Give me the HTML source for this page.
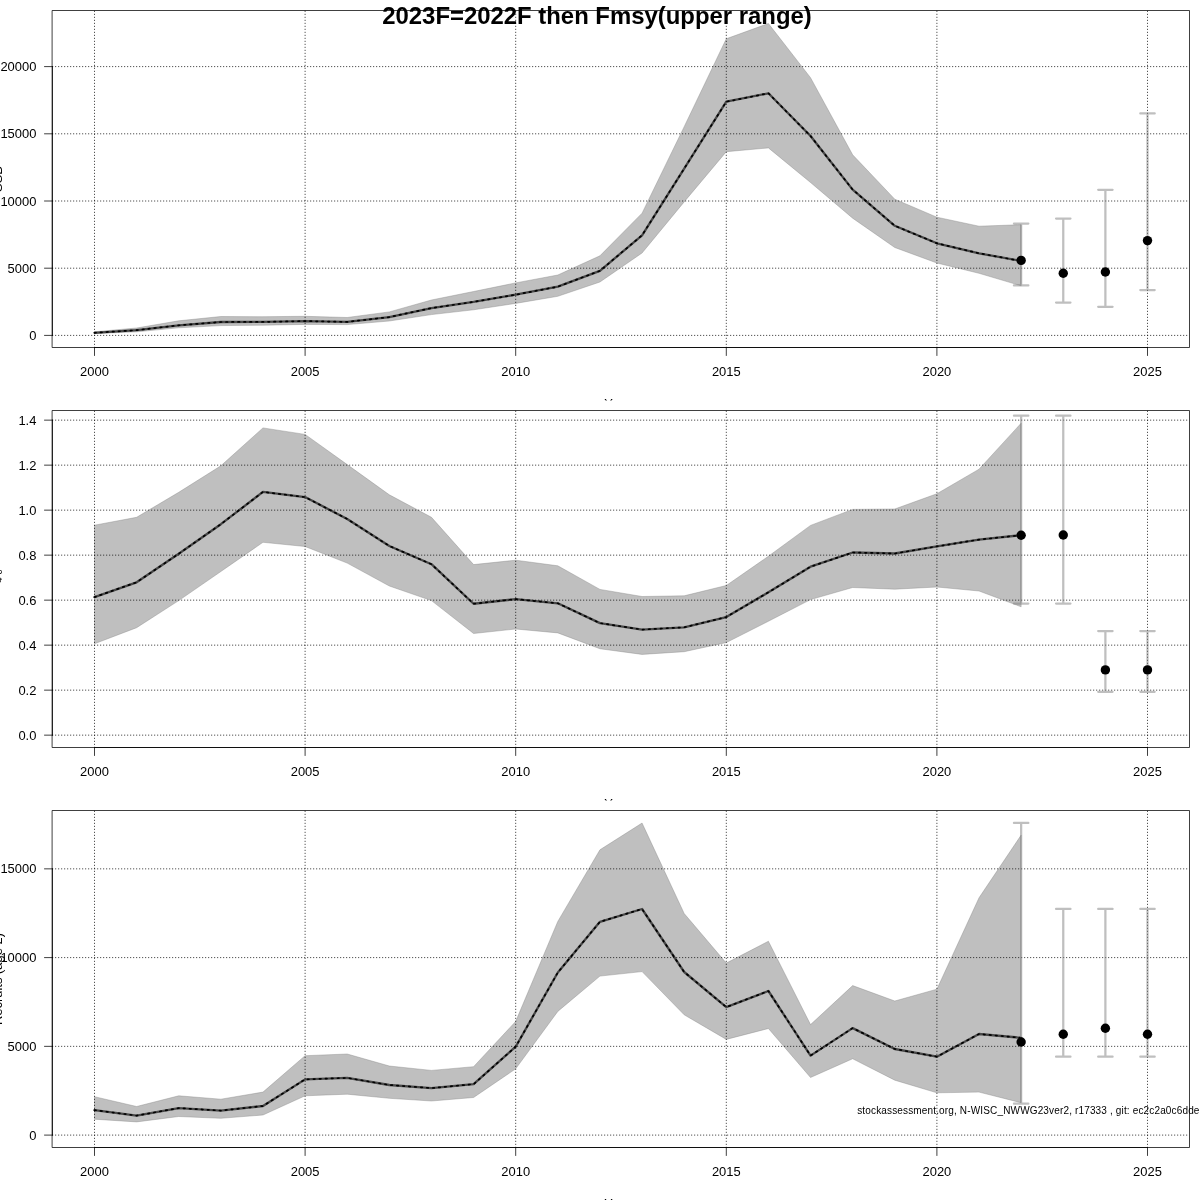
<!DOCTYPE html>
<html lang="en">
<head>
<meta charset="utf-8">
<title>2023F=2022F then Fmsy(upper range)</title>
<style>
html,body{margin:0;padding:0;background:#fff;}
body{width:1200px;height:1200px;overflow:hidden;}
svg{display:block;}
text{font-family:"Liberation Sans",Arial,Helvetica,sans-serif;font-size:12.95px;fill:#000;}
.title{font-weight:bold;font-size:23.9px;}
.small{font-size:10px;}
</style>
</head>
<body>
<svg width="1200" height="1200" viewBox="0 0 1200 1200">
<rect width="1200" height="1200" fill="#fff"/>
<g id="panel1">
<polygon points="94.5,333.6 136.62,331.8 178.74,327.8 220.86,325.6 262.98,325.2 305.1,324.4 347.22,324.6 389.34,321 431.46,314.6 473.58,309.8 515.7,303.4 557.82,296.3 599.94,282 642.06,253 684.18,201.9 726.3,151.7 768.42,147.9 810.54,182.5 852.66,218.2 894.78,247.5 936.9,263 979.02,273.3 1021.14,285.8 1021.14,224.7 979.02,226.2 936.9,217.2 894.78,199.2 852.66,154.8 810.54,77.7 768.42,23.5 726.3,38.75 684.18,126.7 642.06,213.2 599.94,255.8 557.82,275 515.7,282.9 473.58,291.5 431.46,300 389.34,311.9 347.22,317.5 305.1,316.3 262.98,316.7 220.86,316.5 178.74,320.8 136.62,328 94.5,331.8" fill="#7f7f7f" fill-opacity="0.5" stroke="#7f7f7f" stroke-opacity="0.5" stroke-width="0.75" stroke-linejoin="round"/>
<polyline points="94.5,332.8 136.62,330.2 178.74,325.3 220.86,322 262.98,321.9 305.1,321.1 347.22,321.9 389.34,317.1 431.46,308.1 473.58,301.9 515.7,294.7 557.82,286.7 599.94,270.8 642.06,235.3 684.18,168.6 726.3,101.7 768.42,93.3 810.54,136 852.66,189.6 894.78,225.8 936.9,243.3 979.02,253.3 1021.14,261" fill="none" stroke="#000" stroke-opacity="0.62" stroke-width="2.3" stroke-linejoin="round" stroke-linecap="round"/>
<polyline points="94.5,332.8 136.62,330.2 178.74,325.3 220.86,322 262.98,321.9 305.1,321.1 347.22,321.9 389.34,317.1 431.46,308.1 473.58,301.9 515.7,294.7 557.82,286.7 599.94,270.8 642.06,235.3 684.18,168.6 726.3,101.7 768.42,93.3 810.54,136 852.66,189.6 894.78,225.8 936.9,243.3 979.02,253.3 1021.14,261" fill="none" stroke="#000" stroke-width="1.7" stroke-dasharray="1.5 4.5" stroke-linejoin="round" stroke-linecap="round"/>
<path d="M94.5 347.5V10.5M305.1 347.5V10.5M515.7 347.5V10.5M726.3 347.5V10.5M936.9 347.5V10.5M1147.5 347.5V10.5M52.5 335.4H1189.5M52.5 268.2H1189.5M52.5 201H1189.5M52.5 133.8H1189.5M52.5 66.6H1189.5" fill="none" stroke="#000" stroke-width="0.75" stroke-dasharray="0.3 2.7" stroke-linecap="round"/>
<path d="M52.5 10.5H1189.5V347.5H52.5ZM94.5 347.5H1147.5M94.5 347.5v8M305.1 347.5v8M515.7 347.5v8M726.3 347.5v8M936.9 347.5v8M1147.5 347.5v8M52.5 335.4V66.6M52.5 335.4h-8M52.5 268.2h-8M52.5 201h-8M52.5 133.8h-8M52.5 66.6h-8" fill="none" stroke="#000" stroke-width="0.75" stroke-linecap="round" stroke-linejoin="round"/>
<text x="94.5" y="376" text-anchor="middle">2000</text>
<text x="305.1" y="376" text-anchor="middle">2005</text>
<text x="515.7" y="376" text-anchor="middle">2010</text>
<text x="726.3" y="376" text-anchor="middle">2015</text>
<text x="936.9" y="376" text-anchor="middle">2020</text>
<text x="1147.5" y="376" text-anchor="middle">2025</text>
<text x="36.4" y="340" text-anchor="end">0</text>
<text x="36.4" y="273" text-anchor="end">5000</text>
<text x="36.4" y="206" text-anchor="end">10000</text>
<text x="36.4" y="138" text-anchor="end">15000</text>
<text x="36.4" y="71" text-anchor="end">20000</text>
<path d="M1021.14 223.5V285.4M1013.94 223.5h14.4M1013.94 285.4h14.4" fill="none" stroke="#7f7f7f" stroke-opacity="0.5" stroke-width="2.25" stroke-linecap="round"/>
<path d="M1063.26 218.6V302.6M1056.06 218.6h14.4M1056.06 302.6h14.4" fill="none" stroke="#7f7f7f" stroke-opacity="0.5" stroke-width="2.25" stroke-linecap="round"/>
<path d="M1105.38 189.8V306.8M1098.18 189.8h14.4M1098.18 306.8h14.4" fill="none" stroke="#7f7f7f" stroke-opacity="0.5" stroke-width="2.25" stroke-linecap="round"/>
<path d="M1147.5 113.4V290.1M1140.3 113.4h14.4M1140.3 290.1h14.4" fill="none" stroke="#7f7f7f" stroke-opacity="0.5" stroke-width="2.25" stroke-linecap="round"/>
<circle cx="1021.14" cy="260.4" r="4.7"/>
<circle cx="1063.26" cy="273.2" r="4.7"/>
<circle cx="1105.38" cy="272" r="4.7"/>
<circle cx="1147.5" cy="240.6" r="4.7"/>
<text transform="translate(1.9 179) rotate(-90)" text-anchor="middle">SSB</text>
<svg x="0" y="0" width="1200" height="400.6" overflow="hidden"><text x="617.4" y="407.5" text-anchor="middle">Year</text></svg>
</g>
<g id="panel2">
<polygon points="94.5,643.75 136.62,627.7 178.74,600.6 220.86,571.5 262.98,542.3 305.1,546.5 347.22,563.1 389.34,586 431.46,600.6 473.58,633.5 515.7,629 557.82,632.9 599.94,648.75 642.06,654.4 684.18,651.7 726.3,642.6 768.42,621.25 810.54,599.6 852.66,587.5 894.78,589.2 936.9,587 979.02,591 1021.14,606.8 1021.14,423.2 979.02,469.2 936.9,493.75 894.78,509 852.66,509.4 810.54,525.4 768.42,556.25 726.3,585.5 684.18,595.8 642.06,596.5 599.94,589.4 557.82,565.8 515.7,560.2 473.58,564.6 431.46,517.3 389.34,494.8 347.22,464.6 305.1,434.4 262.98,427.9 220.86,465.8 178.74,492.3 136.62,517.3 94.5,525.2" fill="#7f7f7f" fill-opacity="0.5" stroke="#7f7f7f" stroke-opacity="0.5" stroke-width="0.75" stroke-linejoin="round"/>
<polyline points="94.5,597.1 136.62,582.3 178.74,553.75 220.86,524.2 262.98,491.9 305.1,497.1 347.22,519 389.34,546 431.46,564.2 473.58,603.75 515.7,599.1 557.82,603.3 599.94,623.1 642.06,629.6 684.18,627.3 726.3,617.1 768.42,592.3 810.54,566.7 852.66,552.5 894.78,553.5 936.9,546.4 979.02,539.6 1021.14,535.2" fill="none" stroke="#000" stroke-opacity="0.62" stroke-width="2.3" stroke-linejoin="round" stroke-linecap="round"/>
<polyline points="94.5,597.1 136.62,582.3 178.74,553.75 220.86,524.2 262.98,491.9 305.1,497.1 347.22,519 389.34,546 431.46,564.2 473.58,603.75 515.7,599.1 557.82,603.3 599.94,623.1 642.06,629.6 684.18,627.3 726.3,617.1 768.42,592.3 810.54,566.7 852.66,552.5 894.78,553.5 936.9,546.4 979.02,539.6 1021.14,535.2" fill="none" stroke="#000" stroke-width="1.7" stroke-dasharray="1.5 4.5" stroke-linejoin="round" stroke-linecap="round"/>
<path d="M94.5 747.5V410.5M305.1 747.5V410.5M515.7 747.5V410.5M726.3 747.5V410.5M936.9 747.5V410.5M1147.5 747.5V410.5M52.5 735.15H1189.5M52.5 690.15H1189.5M52.5 645.15H1189.5M52.5 600.15H1189.5M52.5 555.15H1189.5M52.5 510.15H1189.5M52.5 465.15H1189.5M52.5 420.15H1189.5" fill="none" stroke="#000" stroke-width="0.75" stroke-dasharray="0.3 2.7" stroke-linecap="round"/>
<path d="M52.5 410.5H1189.5V747.5H52.5ZM94.5 747.5H1147.5M94.5 747.5v8M305.1 747.5v8M515.7 747.5v8M726.3 747.5v8M936.9 747.5v8M1147.5 747.5v8M52.5 735.15V420.15M52.5 735.15h-8M52.5 690.15h-8M52.5 645.15h-8M52.5 600.15h-8M52.5 555.15h-8M52.5 510.15h-8M52.5 465.15h-8M52.5 420.15h-8" fill="none" stroke="#000" stroke-width="0.75" stroke-linecap="round" stroke-linejoin="round"/>
<text x="94.5" y="776" text-anchor="middle">2000</text>
<text x="305.1" y="776" text-anchor="middle">2005</text>
<text x="515.7" y="776" text-anchor="middle">2010</text>
<text x="726.3" y="776" text-anchor="middle">2015</text>
<text x="936.9" y="776" text-anchor="middle">2020</text>
<text x="1147.5" y="776" text-anchor="middle">2025</text>
<text x="36.4" y="740" text-anchor="end">0.0</text>
<text x="36.4" y="695" text-anchor="end">0.2</text>
<text x="36.4" y="650" text-anchor="end">0.4</text>
<text x="36.4" y="605" text-anchor="end">0.6</text>
<text x="36.4" y="560" text-anchor="end">0.8</text>
<text x="36.4" y="515" text-anchor="end">1.0</text>
<text x="36.4" y="470" text-anchor="end">1.2</text>
<text x="36.4" y="425" text-anchor="end">1.4</text>
<path d="M1021.14 415.7V603.5M1013.94 415.7h14.4M1013.94 603.5h14.4" fill="none" stroke="#7f7f7f" stroke-opacity="0.5" stroke-width="2.25" stroke-linecap="round"/>
<path d="M1063.26 415.7V603.5M1056.06 415.7h14.4M1056.06 603.5h14.4" fill="none" stroke="#7f7f7f" stroke-opacity="0.5" stroke-width="2.25" stroke-linecap="round"/>
<path d="M1105.38 631V691.8M1098.18 631h14.4M1098.18 691.8h14.4" fill="none" stroke="#7f7f7f" stroke-opacity="0.5" stroke-width="2.25" stroke-linecap="round"/>
<path d="M1147.5 631V691.8M1140.3 631h14.4M1140.3 691.8h14.4" fill="none" stroke="#7f7f7f" stroke-opacity="0.5" stroke-width="2.25" stroke-linecap="round"/>
<circle cx="1021.14" cy="535.2" r="4.7"/>
<circle cx="1063.26" cy="535" r="4.7"/>
<circle cx="1105.38" cy="669.9" r="4.7"/>
<circle cx="1147.5" cy="669.9" r="4.7"/>
<text transform="translate(-1.2 580) rotate(-90)" text-anchor="middle"><tspan>F</tspan><tspan font-size="9px" dy="3.2">4-6</tspan></text><path d="M-10 583.5v-8" stroke="#000" stroke-width="0.75"/>
<svg x="0" y="400" width="1200" height="400.6" overflow="hidden"><text x="617.4" y="407.5" text-anchor="middle">Year</text></svg>
</g>
<g id="panel3">
<polygon points="94.5,1119.2 136.62,1121.9 178.74,1116.5 220.86,1118.3 262.98,1115 305.1,1095.8 347.22,1094.2 389.34,1098.3 431.46,1101 473.58,1097.5 515.7,1068.8 557.82,1011.4 599.94,976.1 642.06,971.6 684.18,1014.8 726.3,1039.4 768.42,1028.5 810.54,1077.5 852.66,1058.75 894.78,1080.2 936.9,1092.8 979.02,1092.1 1021.14,1102.7 1021.14,835.1 979.02,897.8 936.9,989.2 894.78,1001 852.66,985.6 810.54,1024.6 768.42,941.25 726.3,963.1 684.18,913.5 642.06,823.05 599.94,849.8 557.82,921.4 515.7,1021.4 473.58,1066.7 431.46,1070.4 389.34,1066 347.22,1054 305.1,1055.7 262.98,1092.1 220.86,1099.2 178.74,1095.8 136.62,1106.5 94.5,1096.7" fill="#7f7f7f" fill-opacity="0.5" stroke="#7f7f7f" stroke-opacity="0.5" stroke-width="0.75" stroke-linejoin="round"/>
<polyline points="94.5,1110.2 136.62,1115.6 178.74,1108.1 220.86,1110.6 262.98,1106 305.1,1079.4 347.22,1077.9 389.34,1085 431.46,1088.1 473.58,1084.2 515.7,1046.7 557.82,972.5 599.94,921.8 642.06,909 684.18,972 726.3,1007.1 768.42,991 810.54,1055.6 852.66,1028.1 894.78,1049 936.9,1056.7 979.02,1034 1021.14,1037.8" fill="none" stroke="#000" stroke-opacity="0.62" stroke-width="2.3" stroke-linejoin="round" stroke-linecap="round"/>
<polyline points="94.5,1110.2 136.62,1115.6 178.74,1108.1 220.86,1110.6 262.98,1106 305.1,1079.4 347.22,1077.9 389.34,1085 431.46,1088.1 473.58,1084.2 515.7,1046.7 557.82,972.5 599.94,921.8 642.06,909 684.18,972 726.3,1007.1 768.42,991 810.54,1055.6 852.66,1028.1 894.78,1049 936.9,1056.7 979.02,1034 1021.14,1037.8" fill="none" stroke="#000" stroke-width="1.7" stroke-dasharray="1.5 4.5" stroke-linejoin="round" stroke-linecap="round"/>
<path d="M94.5 1147.5V810.5M305.1 1147.5V810.5M515.7 1147.5V810.5M726.3 1147.5V810.5M936.9 1147.5V810.5M1147.5 1147.5V810.5M52.5 1135.1H1189.5M52.5 1046.35H1189.5M52.5 957.6H1189.5M52.5 868.85H1189.5" fill="none" stroke="#000" stroke-width="0.75" stroke-dasharray="0.3 2.7" stroke-linecap="round"/>
<path d="M52.5 810.5H1189.5V1147.5H52.5ZM94.5 1147.5H1147.5M94.5 1147.5v8M305.1 1147.5v8M515.7 1147.5v8M726.3 1147.5v8M936.9 1147.5v8M1147.5 1147.5v8M52.5 1135.1V868.85M52.5 1135.1h-8M52.5 1046.35h-8M52.5 957.6h-8M52.5 868.85h-8" fill="none" stroke="#000" stroke-width="0.75" stroke-linecap="round" stroke-linejoin="round"/>
<text x="94.5" y="1176" text-anchor="middle">2000</text>
<text x="305.1" y="1176" text-anchor="middle">2005</text>
<text x="515.7" y="1176" text-anchor="middle">2010</text>
<text x="726.3" y="1176" text-anchor="middle">2015</text>
<text x="936.9" y="1176" text-anchor="middle">2020</text>
<text x="1147.5" y="1176" text-anchor="middle">2025</text>
<text x="36.4" y="1140" text-anchor="end">0</text>
<text x="36.4" y="1051" text-anchor="end">5000</text>
<text x="36.4" y="962" text-anchor="end">10000</text>
<text x="36.4" y="873" text-anchor="end">15000</text>
<path d="M1021.14 822.9V1103.7M1013.94 822.9h14.4M1013.94 1103.7h14.4" fill="none" stroke="#7f7f7f" stroke-opacity="0.5" stroke-width="2.25" stroke-linecap="round"/>
<path d="M1063.26 908.9V1056.7M1056.06 908.9h14.4M1056.06 1056.7h14.4" fill="none" stroke="#7f7f7f" stroke-opacity="0.5" stroke-width="2.25" stroke-linecap="round"/>
<path d="M1105.38 908.9V1056.7M1098.18 908.9h14.4M1098.18 1056.7h14.4" fill="none" stroke="#7f7f7f" stroke-opacity="0.5" stroke-width="2.25" stroke-linecap="round"/>
<path d="M1147.5 908.9V1056.7M1140.3 908.9h14.4M1140.3 1056.7h14.4" fill="none" stroke="#7f7f7f" stroke-opacity="0.5" stroke-width="2.25" stroke-linecap="round"/>
<circle cx="1021.14" cy="1042" r="4.7"/>
<circle cx="1063.26" cy="1034.2" r="4.7"/>
<circle cx="1105.38" cy="1028.3" r="4.7"/>
<circle cx="1147.5" cy="1034.2" r="4.7"/>
<text transform="translate(1.9 979) rotate(-90)" text-anchor="middle">Recruits (age 2)</text>
<svg x="0" y="800" width="1200" height="400.6" overflow="hidden"><text x="617.4" y="407.5" text-anchor="middle">Year</text></svg>
</g>
<text class="title" x="597" y="23.8" text-anchor="middle">2023F=2022F then Fmsy(upper range)</text>
<text class="small" x="857.2" y="1113.5" textLength="342.2" lengthAdjust="spacing">stockassessment.org, N-WISC_NWWG23ver2, r17333 , git: ec2c2a0c6dde</text>
</svg>
</body>
</html>
